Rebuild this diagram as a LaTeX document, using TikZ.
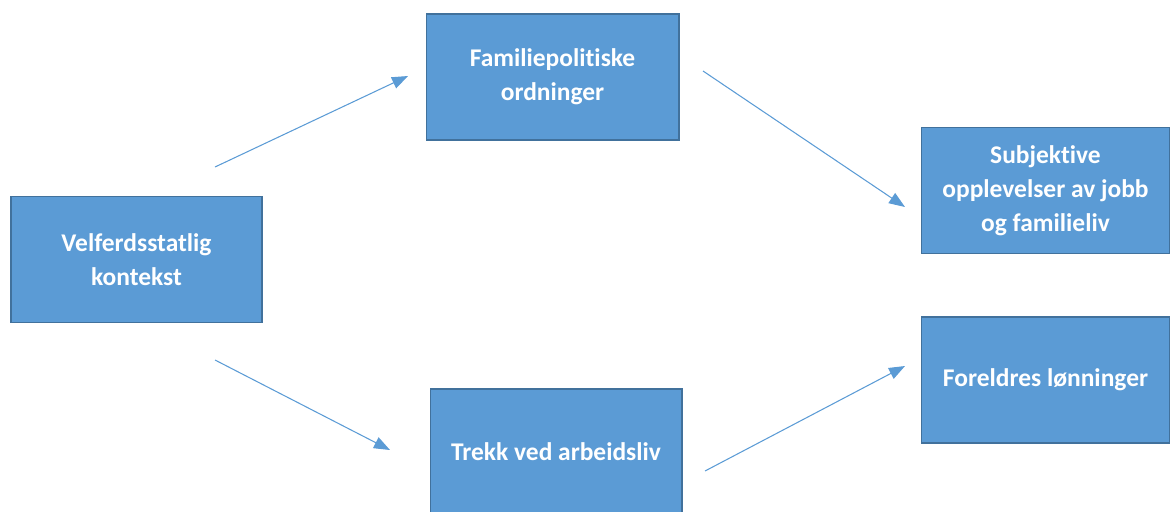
\documentclass[tikz,border=0pt]{standalone}
\usepackage{fontspec}
\setmainfont{Carlito}[Ligatures=NoCommon]
\usepackage{tikz}
\usetikzlibrary{arrows.meta}

\definecolor{boxfill}{HTML}{5B9BD5}
\definecolor{boxline}{HTML}{41719C}

\begin{document}
\begin{tikzpicture}[
    x = 0.02cm,
    y = -0.02cm,
    box/.style={
        draw = boxline,
        fill = boxfill,
        line width = 0.6pt,
        minimum width = 5cm,
        minimum height = 2.52cm,
        align = center,
        text = white,
        font = \fontsize{14.5}{19.5}\selectfont\bfseries
    },
    link/.style={
        draw = boxfill,
        line width = 0.6pt,
        -{Triangle[length=0.32cm,width=0.24cm]}
    }
    ]

\useasboundingbox (0,0) rectangle (1170,511);

\node[box, minimum width = 5.02cm] (velf) at (136.5,259.5) {Velferdsstatlig\\kontekst};
\node[box, minimum width = 5.06cm] (fam) at (552.5,77) {Familiepolitiske\\ordninger};
\node[box, minimum width = 4.98cm] (subj) at (1045.5,190.5) {Subjektive\\opplevelser av jobb\\og familieliv};
\node[box, minimum width = 4.98cm] (lonn) at (1045.5,380) {Foreldres lønninger};
\node[box, minimum width = 5.04cm] (trekk) at (556,452) {Trekk ved arbeidsliv};

% free ends of the arrows
\coordinate (velf-up) at (215,167);
\coordinate (fam-in) at (408,76);
\coordinate (fam-out) at (703,71);
\coordinate (subj-in) at (905,207);
\coordinate (velf-down) at (215,360);
\coordinate (trekk-in) at (390,450);
\coordinate (trekk-out) at (705,471);
\coordinate (lonn-in) at (905,366);

\draw[link] (velf-up) -- (fam-in);
\draw[link] (fam-out) -- (subj-in);
\draw[link] (velf-down) -- (trekk-in);
\draw[link] (trekk-out) -- (lonn-in);
\end{tikzpicture}
\end{document}
